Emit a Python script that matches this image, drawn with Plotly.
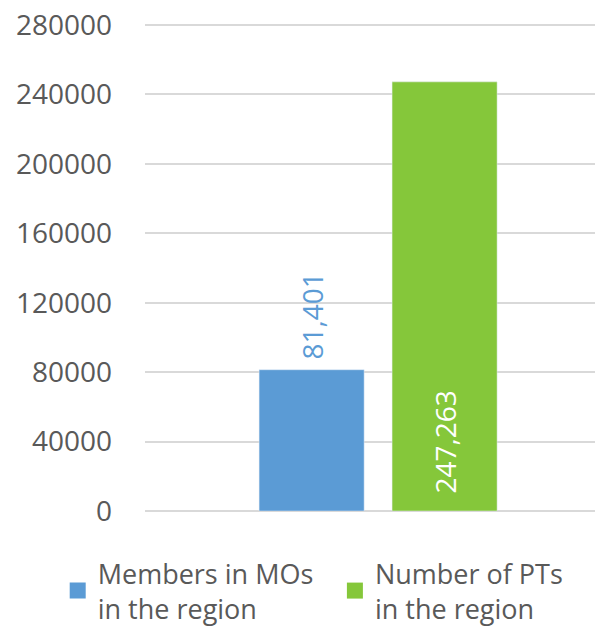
import plotly.graph_objects as go

series_names = ["Members in MOs<br>in the region", "Number of PTs<br>in the region"]
series_values = [81401, 247263]
series_labels = ["\u00a081,401", "\u00a0\u00a0247,263"]
colors = ["#5B9BD5", "#85C73A"]
category = [""]
tick_values = [0, 40000, 80000, 120000, 160000, 200000, 240000, 280000]
tick_labels = ["0", "40000", "80000", "120000", "160000", "200000", "240000", "280000"]

FONT = "Open Sans"
TXT = "#595959"

fig = go.Figure()
# bars
fig.add_trace(go.Bar(x=category, y=[series_values[0]], marker_color=colors[0],
                     text=[series_labels[0]], textposition="outside", textangle=-90,
                     textfont=dict(size=28, color=colors[0], family=FONT),
                     showlegend=False, cliponaxis=False))
fig.add_trace(go.Bar(x=category, y=[series_values[1]], marker_color=colors[1],
                     text=[series_labels[1]], textposition="inside", insidetextanchor="start",
                     textangle=-90, textfont=dict(size=28, color="white", family=FONT),
                     showlegend=False))
# legend entries (one legend each)
for name, c, lg in zip(series_names, colors, ["legend", "legend2"]):
    fig.add_trace(go.Scatter(x=[None], y=[None], mode="markers", name=name, legend=lg,
                             marker=dict(symbol="square", size=16, color=c)))

legend_common = dict(orientation="h", yanchor="top", y=-0.078, xanchor="left",
                     font=dict(size=27, color=TXT, family=FONT), itemsizing="trace",
                     bgcolor="rgba(0,0,0,0)")
fig.update_layout(
    width=595, height=628,
    margin=dict(l=145, r=0, t=24, b=117, autoexpand=False),
    paper_bgcolor="white", plot_bgcolor="white",
    barmode="group", bargap=0.409, bargroupgap=0.21,
    font=dict(family=FONT, size=28, color=TXT),
    legend=dict(x=-0.194, **legend_common),
    legend2=dict(x=0.422, **legend_common),
)
fig.update_xaxes(range=[-0.518, 0.482], showticklabels=False, showgrid=False,
                 zeroline=False, showline=False, fixedrange=True)
fig.update_yaxes(range=[0, 280600], tickmode="array", tickvals=tick_values, ticktext=tick_labels,
                 showgrid=True, gridcolor="#D9D9D9", gridwidth=1.5, zeroline=True,
                 zerolinecolor="#D9D9D9", zerolinewidth=1.5, showline=False, ticks="",
                 ticklabelstandoff=32, tickfont=dict(size=28, color=TXT, family=FONT))
fig.update_traces(constraintext="none", selector=dict(type="bar"))

fig.write_html("out.html", config={"displayModeBar": False},
               post_script="document.body.style.margin='0';")
